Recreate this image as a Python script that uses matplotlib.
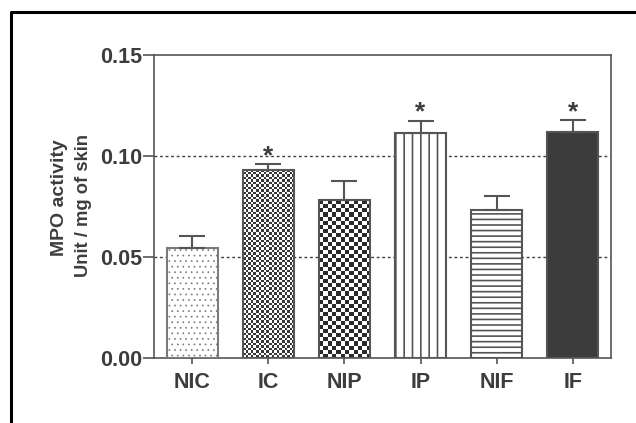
import numpy as np
import matplotlib
matplotlib.use("Agg")
import matplotlib.pyplot as plt
from matplotlib.colors import ListedColormap
from matplotlib.lines import Line2D
from matplotlib.ticker import FormatStrFormatter

# --- data ---
groups = ["NIC", "IC", "NIP", "IP", "NIF", "IF"]
mpo_mean = [0.0546, 0.0931, 0.0782, 0.1112, 0.0733, 0.1119]
mpo_sem = [0.0058, 0.0028, 0.0094, 0.0061, 0.0069, 0.0058]
significant = [False, True, False, True, False, True]
y_ticks = [0.00, 0.05, 0.10, 0.15]

# --- style ---
text_col = "#3d3d3d"
line_col = "#555555"
plt.rcParams["font.family"] = ["Liberation Sans", "DejaVu Sans"]
plt.rcParams["font.weight"] = "bold"
plt.rcParams["hatch.linewidth"] = 1.2

fig = plt.figure(figsize=(6.36, 4.23), dpi=100)
ax = fig.add_axes([0.2421, 0.1537, 0.9607 - 0.2421, 0.870 - 0.1537])

x = np.arange(len(groups))
ax.set_xlim(-0.5, len(groups) - 0.5)
ax.set_ylim(0, 0.15)

# dotted reference lines behind the bars
for yv in y_ticks[1:-1]:
    ax.axhline(yv, color=text_col, lw=1.0, ls=(0, (2, 2)), zorder=0.5)

bars = ax.bar(x, mpo_mean, width=0.67, color="white", edgecolor=line_col,
              linewidth=1.5, zorder=3)
# fill patterns
bars[0].set_hatch("...")
bars[0].set_edgecolor("#7a7a7a")
if hasattr(bars[0], "set_hatch_linewidth"):
    bars[0].set_hatch_linewidth(0.5)
bars[3].set_hatch("||")
bars[4].set_hatch("---")
bars[5].set_facecolor("#3c3c3c")


def checker(bar, cell_px, dark):
    # checkerboard texture laid inside a bar
    x0, y0 = bar.get_x(), bar.get_y()
    w, h = bar.get_width(), bar.get_height()
    (px0, py0), (px1, py1) = ax.transData.transform([(x0, y0), (x0 + w, y0 + h)])
    nx = max(1, int(round((px1 - px0) / cell_px)))
    ny = max(1, int(round((py1 - py0) / cell_px)))
    img = np.indices((ny, nx)).sum(axis=0) % 2
    ax.imshow(img, extent=(x0, x0 + w, y0, y0 + h), origin="lower",
              cmap=ListedColormap(["white", dark]), aspect="auto",
              interpolation="nearest", zorder=2.5)
    bar.set_facecolor("none")


checker(bars[1], 2.5, "#383838")
checker(bars[2], 4.2, "#2a2a2a")
ax.set_xlim(-0.5, len(groups) - 0.5)
ax.set_ylim(0, 0.15)

ax.errorbar(x, mpo_mean, yerr=[np.zeros(len(x)), mpo_sem], fmt="none",
            ecolor=line_col, elinewidth=1.5, capsize=9.5, capthick=1.5,
            zorder=4)

for xi, m, s, sig in zip(x, mpo_mean, mpo_sem, significant):
    if sig:
        ax.annotate("*", (xi, m + s), xytext=(0, 1), textcoords="offset points",
                    ha="center", va="baseline", fontsize=19, color=text_col,
                    fontweight="bold")

for side in ["left", "right", "top", "bottom"]:
    ax.spines[side].set_color(line_col)
    ax.spines[side].set_linewidth(1.2)

ax.set_xticks(x)
ax.set_xticklabels(groups)
ax.set_yticks(y_ticks)
ax.yaxis.set_major_formatter(FormatStrFormatter("%.2f"))
ax.tick_params(axis="y", length=7.7, width=1.2, pad=1, color=line_col,
               labelsize=15.5, labelcolor=text_col)
ax.tick_params(axis="x", length=4.3, width=1.2, pad=6, color=line_col,
               labelsize=15.5, labelcolor=text_col)

# two-line y label with different sizes
fig.text(0.094, 0.533, "MPO activity", rotation=90, ha="center", va="center",
         fontsize=14, fontweight="bold", color=text_col)
fig.text(0.132, 0.515, "Unit / mg of skin", rotation=90, ha="center",
         va="center", fontsize=13.2, fontweight="bold", color=text_col)

# black frame on the left and top
fig.add_artist(Line2D([11 / 636, 11 / 636, 1.0], [0.0, 1 - 12 / 423, 1 - 12 / 423],
                      transform=fig.transFigure, color="black", lw=2.2))

fig.savefig("out.png", dpi=100)
